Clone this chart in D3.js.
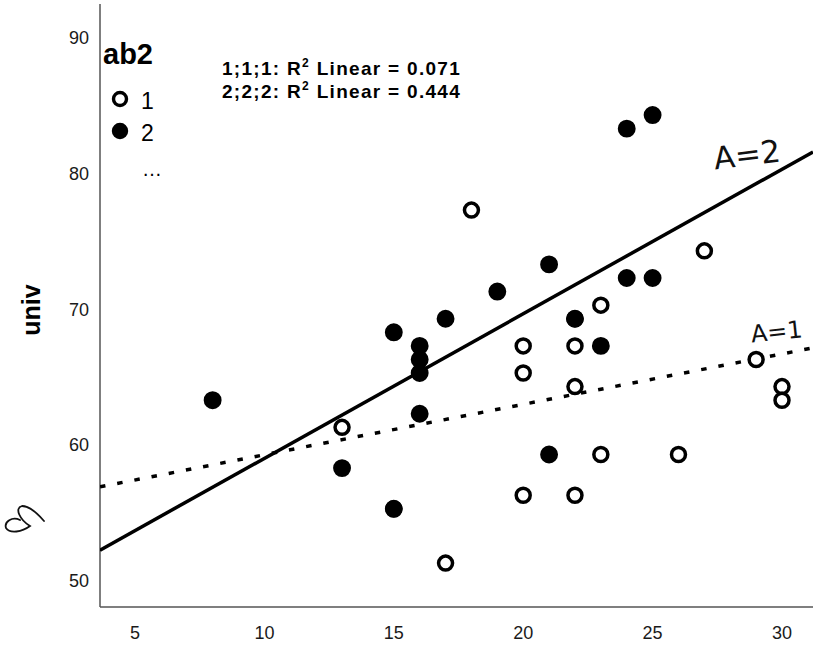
<!DOCTYPE html>
<html><head><meta charset="utf-8">
<script src="https://cdn.jsdelivr.net/npm/d3@7"></script>
<style>body{margin:0;background:#fff}svg{display:block}</style>
</head><body>
<svg id="c" width="813" height="645"></svg>
<script>
// ---- data ----
const xTicks = [5, 10, 15, 20, 25, 30];
const yTicks = [50, 60, 70, 80, 90];
const groups = ["1", "2"];
const g1x = [13, 15, 17, 18, 20, 20, 20, 22, 22, 22, 22, 23, 23, 26, 27, 29, 30, 30];
const g1y = [61, 55, 51, 77, 67, 65, 56, 69, 67, 64, 56, 70, 59, 59, 74, 66, 64, 63];
const g2x = [8, 13, 15, 15, 16, 16, 16, 16, 17, 19, 21, 21, 22, 23, 24, 24, 25, 25];
const g2y = [63, 58, 68, 55, 67, 66, 65, 62, 69, 71, 73, 59, 69, 67, 72, 83, 72, 84];
const fitLabels = ["1;1;1: ", "2;2;2: "];
const r2Values = ["0.071", "0.444"];
const handNotes = ["A=2", "A=1"];

const svg = d3.select("#c");
const FONT = "'Liberation Sans', Arial, sans-serif";
const L = 100, R = 813, T = 4, B = 607;
const x = d3.scaleLinear().domain([5, 30]).range([135, 782]);
const y = d3.scaleLinear().domain([50, 90]).range([576.7, 33.6]);
const x0 = x.invert(L), x1 = x.invert(R);

svg.append("defs").append("clipPath").attr("id", "clip")
  .append("rect").attr("x", L).attr("y", T).attr("width", R - L).attr("height", B - T);

// axes
const axisColor = "#555";
svg.append("line").attr("x1", L).attr("x2", L).attr("y1", T).attr("y2", B)
  .attr("stroke", axisColor).attr("stroke-width", 1.5);
svg.append("line").attr("x1", L).attr("x2", R).attr("y1", B).attr("y2", B)
  .attr("stroke", axisColor).attr("stroke-width", 1.5);

svg.selectAll(".xt").data(xTicks).enter().append("text")
  .attr("x", d => x(d)).attr("y", 633).attr("text-anchor", "middle")
  .attr("dominant-baseline", "central")
  .attr("font-family", FONT).attr("font-size", 18).attr("fill", "#1a1a1a").text(d => d);
svg.selectAll(".yt").data(yTicks).enter().append("text")
  .attr("x", 89).attr("y", d => y(d) + 4.5).attr("text-anchor", "end")
  .attr("dominant-baseline", "central")
  .attr("font-family", FONT).attr("font-size", 18).attr("fill", "#1a1a1a").text(d => d);

svg.append("text").attr("transform", "translate(40,310) rotate(-90)")
  .attr("text-anchor", "middle").attr("font-family", FONT).attr("font-weight", "bold")
  .attr("font-size", 25).text("univ");

// regression
function fit(xs, ys) {
  const n = xs.length, mx = d3.mean(xs), my = d3.mean(ys);
  let sxy = 0, sxx = 0;
  for (let i = 0; i < n; i++) { sxy += (xs[i] - mx) * (ys[i] - my); sxx += (xs[i] - mx) ** 2; }
  const b = sxy / sxx; return { b, a: my - b * mx };
}
const plot = svg.append("g").attr("clip-path", "url(#clip)");
const line = d3.line().x(d => x(d[0])).y(d => y(d[1]));
const f1 = fit(g1x, g1y), f2 = fit(g2x, g2y);
plot.append("path").datum([[x0, f1.a + f1.b * x0], [x1, f1.a + f1.b * x1]])
  .attr("d", line).attr("stroke", "#000").attr("stroke-width", 3.5).attr("fill", "none")
  .attr("stroke-dasharray", "5.5,12");
plot.append("path").datum([[x0, f2.a + f2.b * x0], [x1, f2.a + f2.b * x1]])
  .attr("d", line).attr("stroke", "#000").attr("stroke-width", 3.5).attr("fill", "none");

// points
const pts1 = g1x.map((v, i) => [v, g1y[i]]);
const pts2 = g2x.map((v, i) => [v, g2y[i]]);
plot.selectAll(".p1").data(pts1).enter().append("circle")
  .attr("cx", d => x(d[0])).attr("cy", d => y(d[1])).attr("r", 7)
  .attr("fill", "#fff").attr("stroke", "#000").attr("stroke-width", 3.5);
plot.selectAll(".p2").data(pts2).enter().append("circle")
  .attr("cx", d => x(d[0])).attr("cy", d => y(d[1])).attr("r", 7.2)
  .attr("fill", "#000").attr("stroke", "#000").attr("stroke-width", 3.5);

// legend
svg.append("text").attr("x", 103).attr("y", 64).attr("font-family", FONT)
  .attr("font-weight", "bold").attr("font-size", 29).text("ab2");
const lg = svg.selectAll(".lg").data(groups).enter().append("g")
  .attr("transform", (d, i) => `translate(120,${99 + i * 32})`);
lg.append("circle").attr("r", 6.5).attr("stroke", "#000").attr("stroke-width", 3.4)
  .attr("fill", (d, i) => i ? "#000" : "#fff");
lg.append("text").attr("x", 21).attr("y", 10).attr("font-family", FONT)
  .attr("font-size", 23).text(d => d);
svg.append("text").attr("x", 142).attr("y", 176).attr("font-family", FONT)
  .attr("font-size", 20).text("\u2026");

// R2 annotations
const ann = svg.selectAll(".ann").data(fitLabels).enter().append("text")
  .attr("x", 222).attr("y", (d, i) => 75 + i * 23).attr("font-family", FONT)
  .attr("font-weight", "bold").attr("font-size", 19).attr("letter-spacing", 1.3);
ann.append("tspan").text(d => d + "R");
ann.append("tspan").attr("font-size", 12).attr("dy", -8).text("2");
ann.append("tspan").attr("dy", 8).text((d, i) => " Linear = " + r2Values[i]);

// handwritten notes
svg.append("text").attr("x", 713).attr("y", 165).attr("font-family", "'DejaVu Sans', sans-serif")
  .attr("font-size", 31).attr("transform", "rotate(-7,750,150)")
  .attr("fill", "#111").text(handNotes[0]);
svg.append("text").attr("x", 750).attr("y", 340).attr("font-family", "'DejaVu Sans', sans-serif")
  .attr("font-size", 24).attr("transform", "rotate(-6,775,325)")
  .attr("fill", "#111").text(handNotes[1]);
svg.append("path")
  .attr("d", "M44,521 C38,514 30,506 22,506 C14,508 20,520 30,526 C22,532 10,534 6,528 C4,522 12,516 20,520")
  .attr("fill", "none").attr("stroke", "#111").attr("stroke-width", 1.8).attr("stroke-linecap", "round");
</script>
</body></html>
